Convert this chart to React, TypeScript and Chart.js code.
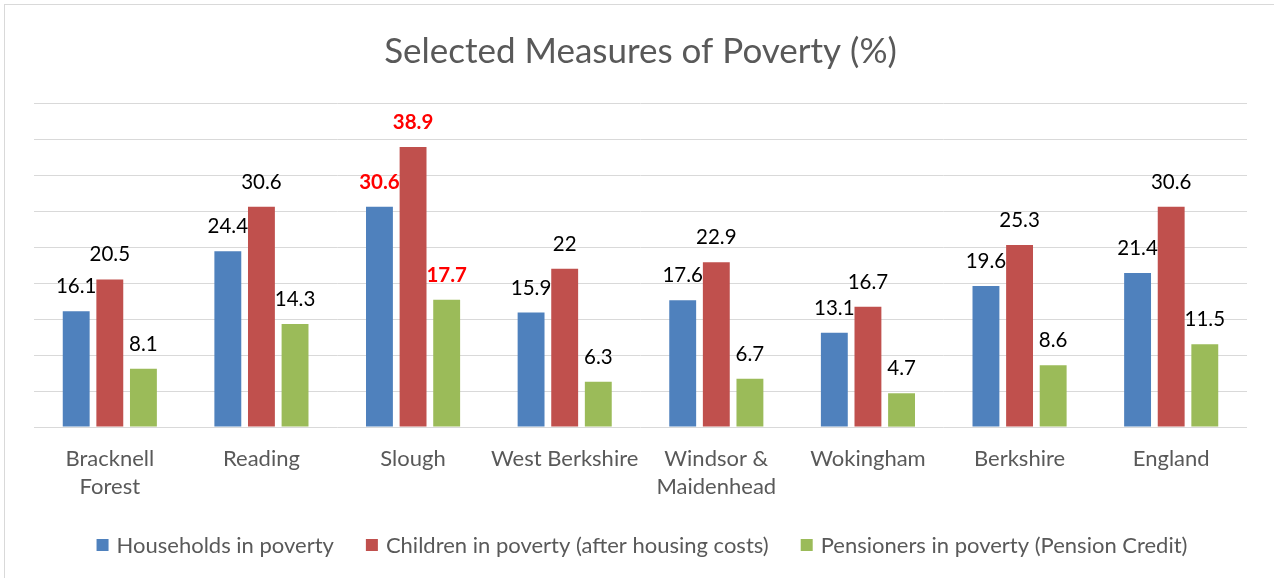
import React, { useEffect, useRef } from "react";
import { Chart, registerables } from "chart.js";

Chart.register(...registerables);

const categories: (string | string[])[] = [
  ["Bracknell", "Forest"],
  "Reading",
  "Slough",
  "West Berkshire",
  ["Windsor &", "Maidenhead"],
  "Wokingham",
  "Berkshire",
  "England",
];
const households = [16.1, 24.4, 30.6, 15.9, 17.6, 13.1, 19.6, 21.4];
const children = [20.5, 30.6, 38.9, 22, 22.9, 16.7, 25.3, 30.6];
const pensioners = [8.1, 14.3, 17.7, 6.3, 6.7, 4.7, 8.6, 11.5];
const highlightIndex = [2];
const seriesNames = [
  "Households in poverty",
  "Children in poverty (after housing costs)",
  "Pensioners in poverty (Pension Credit)",
];
const seriesColors = ["#4F81BD", "#C0504D", "#9BBB59"];
const yMax = 45;
const yStep = 5;

const FONT = "Lato, 'Open Sans', sans-serif";

const dataLabelPlugin = {
  id: "dataLabels",
  afterDatasetsDraw(chart: any) {
    const ctx = chart.ctx;
    ctx.save();
    ctx.textAlign = "center";
    ctx.textBaseline = "alphabetic";
    chart.data.datasets.forEach((ds: any, di: number) => {
      const meta = chart.getDatasetMeta(di);
      meta.data.forEach((bar: any, i: number) => {
        const hl = highlightIndex.includes(i);
        ctx.font = `${hl ? "bold " : ""}20.5px ${FONT}`;
        ctx.fillStyle = hl ? "#FF0000" : "#000000";
        ctx.fillText(String(ds.data[i]), bar.x, bar.y - 18);
      });
    });
    ctx.restore();
  },
};

// Legend drawn below the x-axis labels, from the chart's datasets
const legendPlugin = {
  id: "bottomLegend",
  afterDraw(chart: any) {
    const ctx = chart.ctx;
    const box = 12;
    const textGap = 8;
    const itemGap = 32;
    const cy = 545;
    ctx.save();
    ctx.font = `22px ${FONT}`;
    ctx.textBaseline = "middle";
    ctx.textAlign = "left";
    const items = chart.data.datasets.map((ds: any) => ({
      label: ds.label,
      color: ds.backgroundColor,
      w: ctx.measureText(ds.label).width,
    }));
    const total =
      items.reduce((s: number, it: any) => s + box + textGap + it.w, 0) +
      itemGap * (items.length - 1);
    const center = (chart.chartArea.left + chart.chartArea.right) / 2 + 1.5;
    let x = center - total / 2;
    items.forEach((it: any) => {
      ctx.fillStyle = it.color;
      ctx.fillRect(x, cy - box / 2, box, box);
      ctx.fillStyle = "#595959";
      ctx.fillText(it.label, x + box + textGap, cy + 1);
      x += box + textGap + it.w + itemGap;
    });
    ctx.restore();
  },
};

const borderPlugin = {
  id: "outerBorder",
  afterDraw(chart: any) {
    const ctx = chart.ctx;
    ctx.save();
    ctx.strokeStyle = "#D9D9D9";
    ctx.lineWidth = 1;
    ctx.strokeRect(4.5, 4.5, chart.width + 20, chart.height + 20);
    ctx.restore();
  },
};

export default function App() {
  const ref = useRef<HTMLCanvasElement>(null);
  useEffect(() => {
    document.body.style.margin = "0";
    const chart = new Chart(ref.current!, {
      type: "bar",
      data: {
        labels: categories,
        datasets: [households, children, pensioners].map((d, i) => ({
          label: seriesNames[i],
          data: d,
          backgroundColor: seriesColors[i],
          categoryPercentage: 0.665,
          barPercentage: 0.8,
        })),
      },
      options: {
        animation: false,
        responsive: true,
        maintainAspectRatio: false,
        layout: { padding: { left: 34, right: 27, top: 0, bottom: 59 } },
        plugins: {
          tooltip: { enabled: false },
          title: {
            display: true,
            text: "Selected Measures of Poverty (%)",
            color: "#595959",
            font: { family: FONT, size: 35, weight: "normal" },
            padding: { top: 31, bottom: 30 },
          },
          legend: { display: false },
        },
        scales: {
          x: {
            grid: { display: false, drawTicks: false },
            border: { display: false },
            ticks: {
              color: "#595959",
              font: { family: FONT, size: 22, lineHeight: 1.27 },
              padding: 18,
              maxRotation: 0,
              autoSkip: false,
            },
          },
          y: {
            min: 0,
            max: yMax,
            ticks: { display: false, stepSize: yStep },
            grid: { color: "#D9D9D9", lineWidth: 1, drawTicks: false },
            border: { display: false },
          },
        },
      },
      plugins: [dataLabelPlugin, legendPlugin, borderPlugin],
    });
    return () => chart.destroy();
  }, []);
  return (
    <div style={{ position: "absolute", left: 0, top: 0, width: 1274, height: 578, background: "#fff" }}>
      <canvas ref={ref} />
    </div>
  );
}
